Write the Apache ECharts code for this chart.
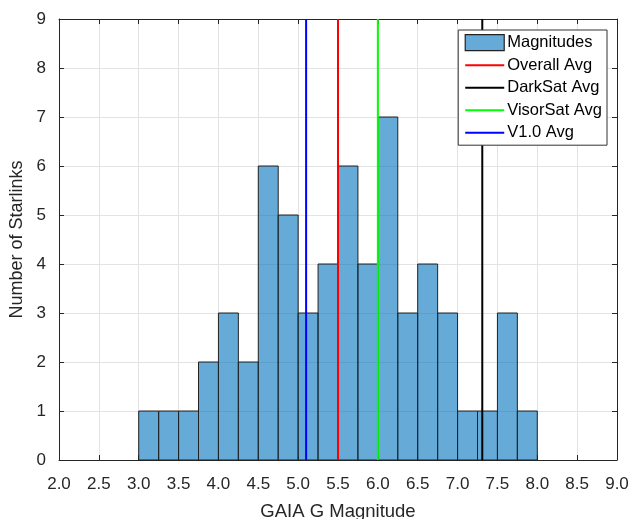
<!DOCTYPE html>
<html>
<head>
<meta charset="utf-8">
<script src="https://cdn.jsdelivr.net/npm/echarts@6/dist/echarts.min.js"></script>
<style>html,body{margin:0;padding:0;background:#fff;}#c{width:634px;height:519px;}</style>
</head>
<body>
<div id="c"></div>
<script>
// Histogram bin edges (GAIA G magnitude) and counts
const binEdges = [3.0, 3.25, 3.5, 3.75, 4.0, 4.25, 4.5, 4.75, 5.0, 5.25, 5.5, 5.75, 6.0, 6.25, 6.5, 6.75, 7.0, 7.25, 7.5, 7.75, 8.0];
const counts   = [1, 1, 1, 2, 3, 2, 6, 5, 3, 4, 6, 4, 7, 3, 4, 3, 1, 1, 3, 1];
// Average lines
const avgNames  = ['Overall Avg', 'DarkSat Avg', 'VisorSat Avg', 'V1.0 Avg'];
const avgValues = [5.5, 7.31, 6.0, 5.1];
const avgColors = ['#ff0000', '#000000', '#00ff00', '#0000ff'];
const xTicks = [2.0, 2.5, 3.0, 3.5, 4.0, 4.5, 5.0, 5.5, 6.0, 6.5, 7.0, 7.5, 8.0, 8.5, 9.0];
const yTicks = [0, 1, 2, 3, 4, 5, 6, 7, 8, 9];

const histData = counts.map((c, i) => [binEdges[i], binEdges[i + 1], c]);
const font = 'Liberation Sans, Arial, Helvetica, sans-serif';
const axisColor = '#262626';

const chart = echarts.init(document.getElementById('c'));
const series = [{
  name: 'Magnitudes',
  type: 'custom',
  data: histData,
  encode: { x: [0, 1], y: 2 },
  itemStyle: { color: 'rgb(102,170,215)', borderColor: '#222', borderWidth: 1 },
  z: 2,
  renderItem: function (params, api) {
    const p0 = api.coord([api.value(0), api.value(2)]);
    const p1 = api.coord([api.value(1), 0]);
    return {
      type: 'rect',
      shape: { x: p0[0], y: p0[1], width: p1[0] - p0[0], height: p1[1] - p0[1] },
      style: { fill: 'rgba(0,114,189,0.6)', stroke: '#222', lineWidth: 1 }
    };
  }
}];
avgNames.forEach((n, i) => {
  series.push({
    name: n,
    type: 'line',
    data: [[avgValues[i], yTicks[0]], [avgValues[i], yTicks[yTicks.length - 1]]],
    symbol: 'none',
    lineStyle: { color: avgColors[i], width: 2 },
    itemStyle: { color: avgColors[i] },
    z: 3,
    silent: true,
    animation: false
  });
});

const xMin = xTicks[0], xMax = xTicks[xTicks.length - 1];
const yMin = yTicks[0], yMax = yTicks[yTicks.length - 1];

const lineLegend = avgNames.map(n => ({ name: n, itemStyle: { opacity: 0 } }));

chart.setOption({
  animation: false,
  backgroundColor: '#fff',
  textStyle: { fontFamily: font },
  grid: { left: 59, right: 17, top: 19, bottom: 59, containLabel: false, outerBoundsMode: 'none' },
  legend: {
    orient: 'vertical',
    right: 27,
    top: 30,
    backgroundColor: '#fff',
    borderColor: '#333',
    borderWidth: 1,
    padding: [4, 5, 4, 6],
    itemWidth: 39,
    itemHeight: 16,
    itemGap: 5.5,
    z: 10,
    textStyle: { fontFamily: font, fontSize: 16.5, color: '#000', padding: [0, 0, 0, -2] },
    data: [{ name: 'Magnitudes', icon: 'rect', itemStyle: { borderWidth: 1.2, borderColor: '#222' } }].concat(lineLegend)
  },
  xAxis: [{
    type: 'value', min: xMin, max: xMax, interval: 0.5, position: 'bottom',
    name: 'GAIA G Magnitude', nameLocation: 'middle', nameGap: 42,
    nameTextStyle: { fontFamily: font, fontSize: 18.5, color: '#262626' },
    axisLine: { show: true, onZero: false, lineStyle: { color: axisColor, width: 1 } },
    axisTick: { show: true, inside: true, length: 5, lineStyle: { color: axisColor } },
    axisLabel: { fontFamily: font, fontSize: 17, color: '#262626', margin: 16, formatter: v => v.toFixed(1) },
    splitLine: { show: true, lineStyle: { color: '#e3e3e3', width: 1 } }
  }, {
    type: 'value', min: xMin, max: xMax, interval: 0.5, position: 'top',
    axisLine: { show: true, onZero: false, lineStyle: { color: axisColor, width: 1 } },
    axisTick: { show: true, inside: true, length: 5, lineStyle: { color: axisColor } },
    axisLabel: { show: false }, splitLine: { show: false }
  }],
  yAxis: [{
    type: 'value', min: yMin, max: yMax, interval: 1, position: 'left',
    name: 'Number of Starlinks', nameLocation: 'middle', nameGap: 29,
    nameTextStyle: { fontFamily: font, fontSize: 18, color: '#262626' },
    axisLine: { show: true, onZero: false, lineStyle: { color: axisColor, width: 1 } },
    axisTick: { show: true, inside: true, length: 5, lineStyle: { color: axisColor } },
    axisLabel: { fontFamily: font, fontSize: 17, color: '#262626', margin: 13 },
    splitLine: { show: true, lineStyle: { color: '#e3e3e3', width: 1 } }
  }, {
    type: 'value', min: yMin, max: yMax, interval: 1, position: 'right',
    axisLine: { show: true, onZero: false, lineStyle: { color: axisColor, width: 1 } },
    axisTick: { show: true, inside: true, length: 5, lineStyle: { color: axisColor } },
    axisLabel: { show: false }, splitLine: { show: false }
  }],
  series: series
});
</script>
</body>
</html>
